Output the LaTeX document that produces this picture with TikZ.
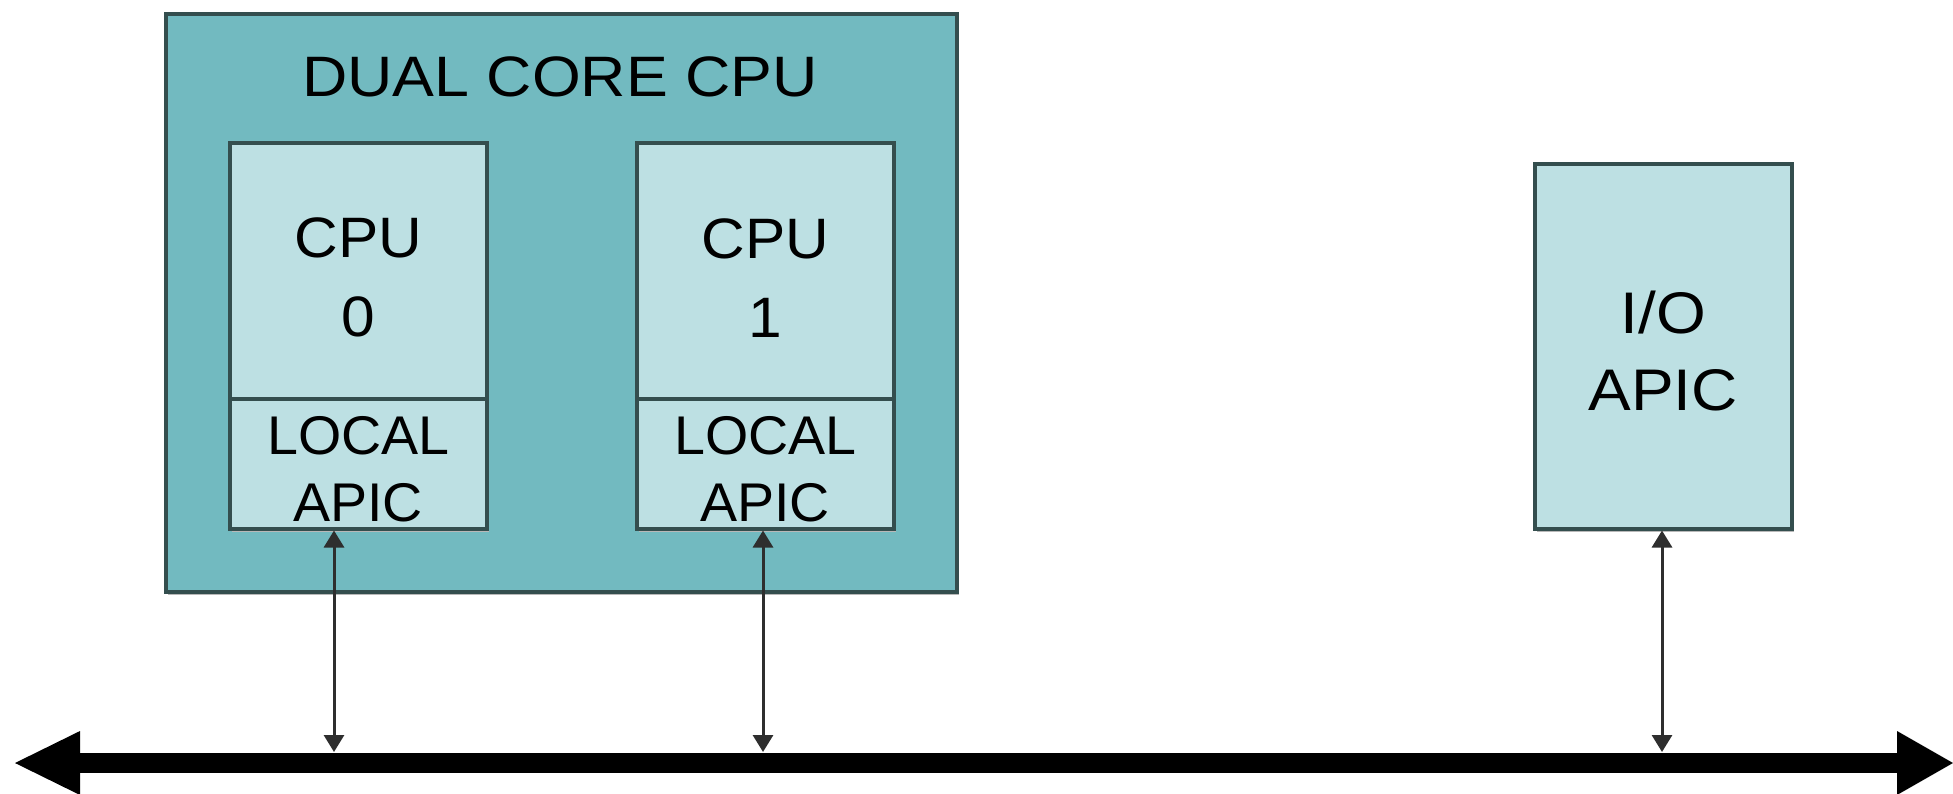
\documentclass[tikz,border=0pt]{standalone}
\usepackage{fontspec}
\setmainfont{Liberation Sans}
\newfontfamily\titlefam{Liberation Sans}[FakeStretch=1.10]
\newfontfamily\cpufam{Liberation Sans}[FakeStretch=1.06]
\newfontfamily\apicfam{Liberation Sans}[FakeStretch=1.02]
\newfontfamily\iofam{Liberation Sans}[FakeStretch=1.09]
\usetikzlibrary{arrows.meta,shadows}
\definecolor{outerfill}{HTML}{72BAC0}
\definecolor{innerfill}{HTML}{BDE0E3}
\definecolor{edgec}{HTML}{344E4E}
\definecolor{linkc}{HTML}{2E2E2E}
\tikzset{
  boxbase/.style={draw=edgec, line width=3.5pt, rectangle, inner sep=0pt,
    anchor=north west, align=center, text=black},
  outerbox/.style={boxbase, fill=outerfill, line width=4pt},
  innerbox/.style={boxbase, fill=innerfill},
  shade/.style={drop shadow={shadow xshift=2pt, shadow yshift=-3pt, fill=black!28, opacity=1}},
  cpufont/.style={font=\cpufam\fontsize{57}{79}\selectfont},
  apicfont/.style={font=\apicfam\fontsize{54.5}{67}\selectfont},
  iofont/.style={font=\iofam\fontsize{58.7}{77}\selectfont},
  titlefont/.style={font=\titlefam\fontsize{57}{70}\selectfont, text=black, inner sep=0pt},
  link/.style={draw=linkc, line width=3pt,
    {Triangle[width=20pt,length=17pt]}-{Triangle[width=20pt,length=17pt]}},
  busline/.style={draw=black, line width=20pt,
    {Triangle[width=64pt,length=65pt,line width=0pt]}-{Triangle[width=64pt,length=56pt,line width=0pt]}},
}
\begin{document}
\begin{tikzpicture}[x=1pt,y=-1pt]
\useasboundingbox (0,0) rectangle (1953,793);
% dual core package
\node[outerbox, shade, minimum width=791pt, minimum height=578pt] (dual) at (164,12) {};
\node[titlefont] (dualtitle) at (560,76.5) {DUAL CORE CPU};
% CPU 0
\node[innerbox, cpufont, minimum width=257pt, minimum height=256pt] (cpu0) at (228,141) {\rule{0pt}{54pt}CPU\\0};
\node[innerbox, shade, apicfont, minimum width=257pt, minimum height=130pt] (lapic0) at (228,397) {\rule{0pt}{50pt}LOCAL\\APIC};
% CPU 1
\node[innerbox, cpufont, minimum width=257pt, minimum height=256pt] (cpu1) at (635,141) {\rule{0pt}{54pt}CPU\\1};
\node[innerbox, shade, apicfont, minimum width=257pt, minimum height=130pt] (lapic1) at (635,397) {\rule{0pt}{50pt}LOCAL\\APIC};
% I/O APIC
\node[innerbox, shade, iofont, minimum width=257pt, minimum height=365pt] (ioapic) at (1533,162) {\rule{0pt}{53pt}I/O\\APIC};
% bus
\coordinate (busL) at (15,763);
\coordinate (busR) at (1953,763);
\draw[busline] (busL) -- (busR);
\coordinate (bus0) at (334,752);
\coordinate (bus1) at (763,752);
\coordinate (bus2) at (1662,752);
\draw[link] (bus0) -- (bus0 |- lapic0.south);
\draw[link] (bus1) -- (bus1 |- lapic1.south);
\draw[link] (bus2) -- (bus2 |- ioapic.south);
\end{tikzpicture}
\end{document}
